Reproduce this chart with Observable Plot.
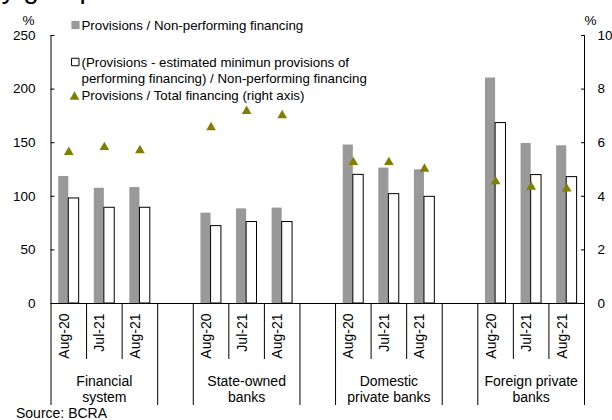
<!DOCTYPE html>
<html><head><meta charset="utf-8">
<script src="https://cdn.jsdelivr.net/npm/d3@7"></script>
<script src="https://cdn.jsdelivr.net/npm/@observablehq/plot@0.6"></script>
<style>
html,body{margin:0;padding:0;background:#fff;}
#wrap{position:relative;width:612px;height:420px;overflow:hidden;font-family:"Liberation Sans",Arial,sans-serif;color:#000;}
#chart{position:absolute;top:0;left:0;}
#title{position:absolute;top:-25px;left:-14px;font-size:28px;line-height:28px;white-space:nowrap;}
#source{position:absolute;top:406px;left:16px;font-size:14px;line-height:15px;}
</style></head><body>
<div id="wrap"><div id="chart"></div><div id="title">by group</div><div id="source">Source: BCRA</div></div>
<script>
// ---- data ----
const groups = ["Financial\nsystem", "State-owned\nbanks", "Domestic\nprivate banks", "Foreign private\nbanks"];
const periods = ["Aug-20", "Jul-21", "Aug-21"];
// Provisions / Non-performing financing (%), left axis
const provNPF = [[118.5, 107.5, 108.2], [84.3, 88.3, 89], [147.8, 126.3, 124.7], [210.3, 149.3, 147.1]];
// (Provisions - est. min. provisions of performing financing) / NPF (%), left axis
const adjNPF = [[98, 89.3, 89.3], [72.2, 76, 76], [120, 102, 99.5], [168.3, 119.8, 117.9]];
// Provisions / Total financing (%), right axis
const provTotal = [[5.65, 5.83, 5.71], [6.57, 7.18, 7.02], [5.27, 5.27, 5.02], [4.55, 4.35, 4.28]];
const leftTicks = [0, 50, 100, 150, 200, 250];
const rightTicks = [0, 2, 4, 6, 8, 10];
const legendLabels = [
  "Provisions / Non-performing financing",
  "(Provisions - estimated minimun provisions of\nperforming financing) / Non-performing financing",
  "Provisions / Total financing (right axis)"
];

// ---- build tables ----
const ratio = leftTicks[leftTicks.length - 1] / rightTicks[rightTicks.length - 1];
const slots = [], rows = [], groupRows = [], longLeft = [], shortLeft = [];
groups.forEach((g, gi) => {
  if (gi > 0) { const gap = "gap" + gi; slots.push(gap); longLeft.push(gap); }
  periods.forEach((p, pi) => {
    const slot = g + "|" + p;
    slots.push(slot);
    (pi === 0 ? longLeft : shortLeft).push(slot);
    rows.push({slot, period: p, npf: provNPF[gi][pi], adj: adjNPF[gi][pi], tot: provTotal[gi][pi]});
  });
  groupRows.push({slot: g + "|" + periods[1], label: g});
});
const lastSlot = slots[slots.length - 1];

const W = 612, H = 405, ML = 50.5, MR = 28, MT = 35, MB = 102;
const bw = (W - ML - MR) / slots.length;
const olive = "#808000", gray = "#999999";

const chart = Plot.plot({
  width: W, height: H,
  marginLeft: ML, marginRight: MR, marginTop: MT, marginBottom: MB,
  x: {type: "band", domain: slots, padding: 0, round: false, axis: null},
  y: {domain: [0, 250], axis: null},
  style: {fontFamily: "'Liberation Sans', Arial, sans-serif", fontSize: "13.5px", background: "transparent", color: "#000", overflow: "visible"},
  marks: [
    // bars
    Plot.barY(rows, {x: "slot", y: "npf", fill: gray, insetLeft: 7.7, insetRight: bw - 17.8}),
    Plot.barY(rows, {x: "slot", y: "adj", fill: "white", stroke: "black", strokeWidth: 1, insetLeft: 17.8, insetRight: 7.4}),
    // axes lines
    Plot.ruleY([0]),
    Plot.ruleX([slots[0]], {x: d => d, y1: 0, y2: 250, dx: -bw / 2}),
    Plot.ruleX([lastSlot], {x: d => d, y1: 0, y2: 250, dx: bw / 2}),
    Plot.axisY({anchor: "left", ticks: leftTicks, tickSize: -4, tickPadding: 19.5, label: null}),
    Plot.axisY({anchor: "right", ticks: rightTicks.map(t => t * ratio), tickFormat: d => d / ratio, tickSize: -4, tickPadding: 17, label: null}),
    // category separators
    Plot.axisX(shortLeft, {tickSize: 56, tickFormat: () => "", dx: -bw / 2, label: null}),
    Plot.axisX(longLeft, {tickSize: 102, tickFormat: () => "", dx: -bw / 2, label: null}),
    Plot.axisX([lastSlot], {tickSize: 102, tickFormat: () => "", dx: bw / 2, label: null}),
    // triangles (right axis)
    Plot.dot(rows, {x: "slot", y: d => d.tot * ratio, symbol: "triangle", r: 3.6, fill: olive}),
    // category labels
    Plot.text(rows, {x: "slot", text: "period", frameAnchor: "bottom", dy: 10, rotate: -90, textAnchor: "end", fontSize: 14}),
    Plot.text(groupRows, {x: "slot", text: "label", frameAnchor: "bottom", dy: 71, lineAnchor: "top", lineHeight: 1.15, fontSize: 14}),
    // unit labels
    Plot.text(["%"], {frameAnchor: "top-left", dx: -28.5, dy: -20.5}),
    Plot.text(["%"], {frameAnchor: "top-right", dx: 12, dy: -20.5}),
    // legend
    Plot.dot([0], {frameAnchor: "top-left", dx: 24.5, dy: -10.5, symbol: "square", r: 4.6, fill: gray}),
    Plot.dot([0], {frameAnchor: "top-left", dx: 24.3, dy: 26.5, symbol: "square", r: 4.2, fill: "white", stroke: "black", strokeWidth: 1}),
    Plot.dot([0], {frameAnchor: "top-left", dx: 23.5, dy: 61.4, symbol: "triangle", r: 3.6, fill: olive}),
    Plot.text([legendLabels[0]], {frameAnchor: "top-left", textAnchor: "start", lineAnchor: "top", dx: 30.5, dy: -15.1, fontSize: 13.3}),
    Plot.text([legendLabels[1]], {frameAnchor: "top-left", textAnchor: "start", lineAnchor: "top", dx: 30.5, dy: 20.6, fontSize: 13.3, lineHeight: 1.2}),
    Plot.text([legendLabels[2]], {frameAnchor: "top-left", textAnchor: "start", lineAnchor: "top", dx: 30.5, dy: 54.9, fontSize: 13.3})
  ]
});
document.getElementById("chart").append(chart);
</script>
</body></html>
